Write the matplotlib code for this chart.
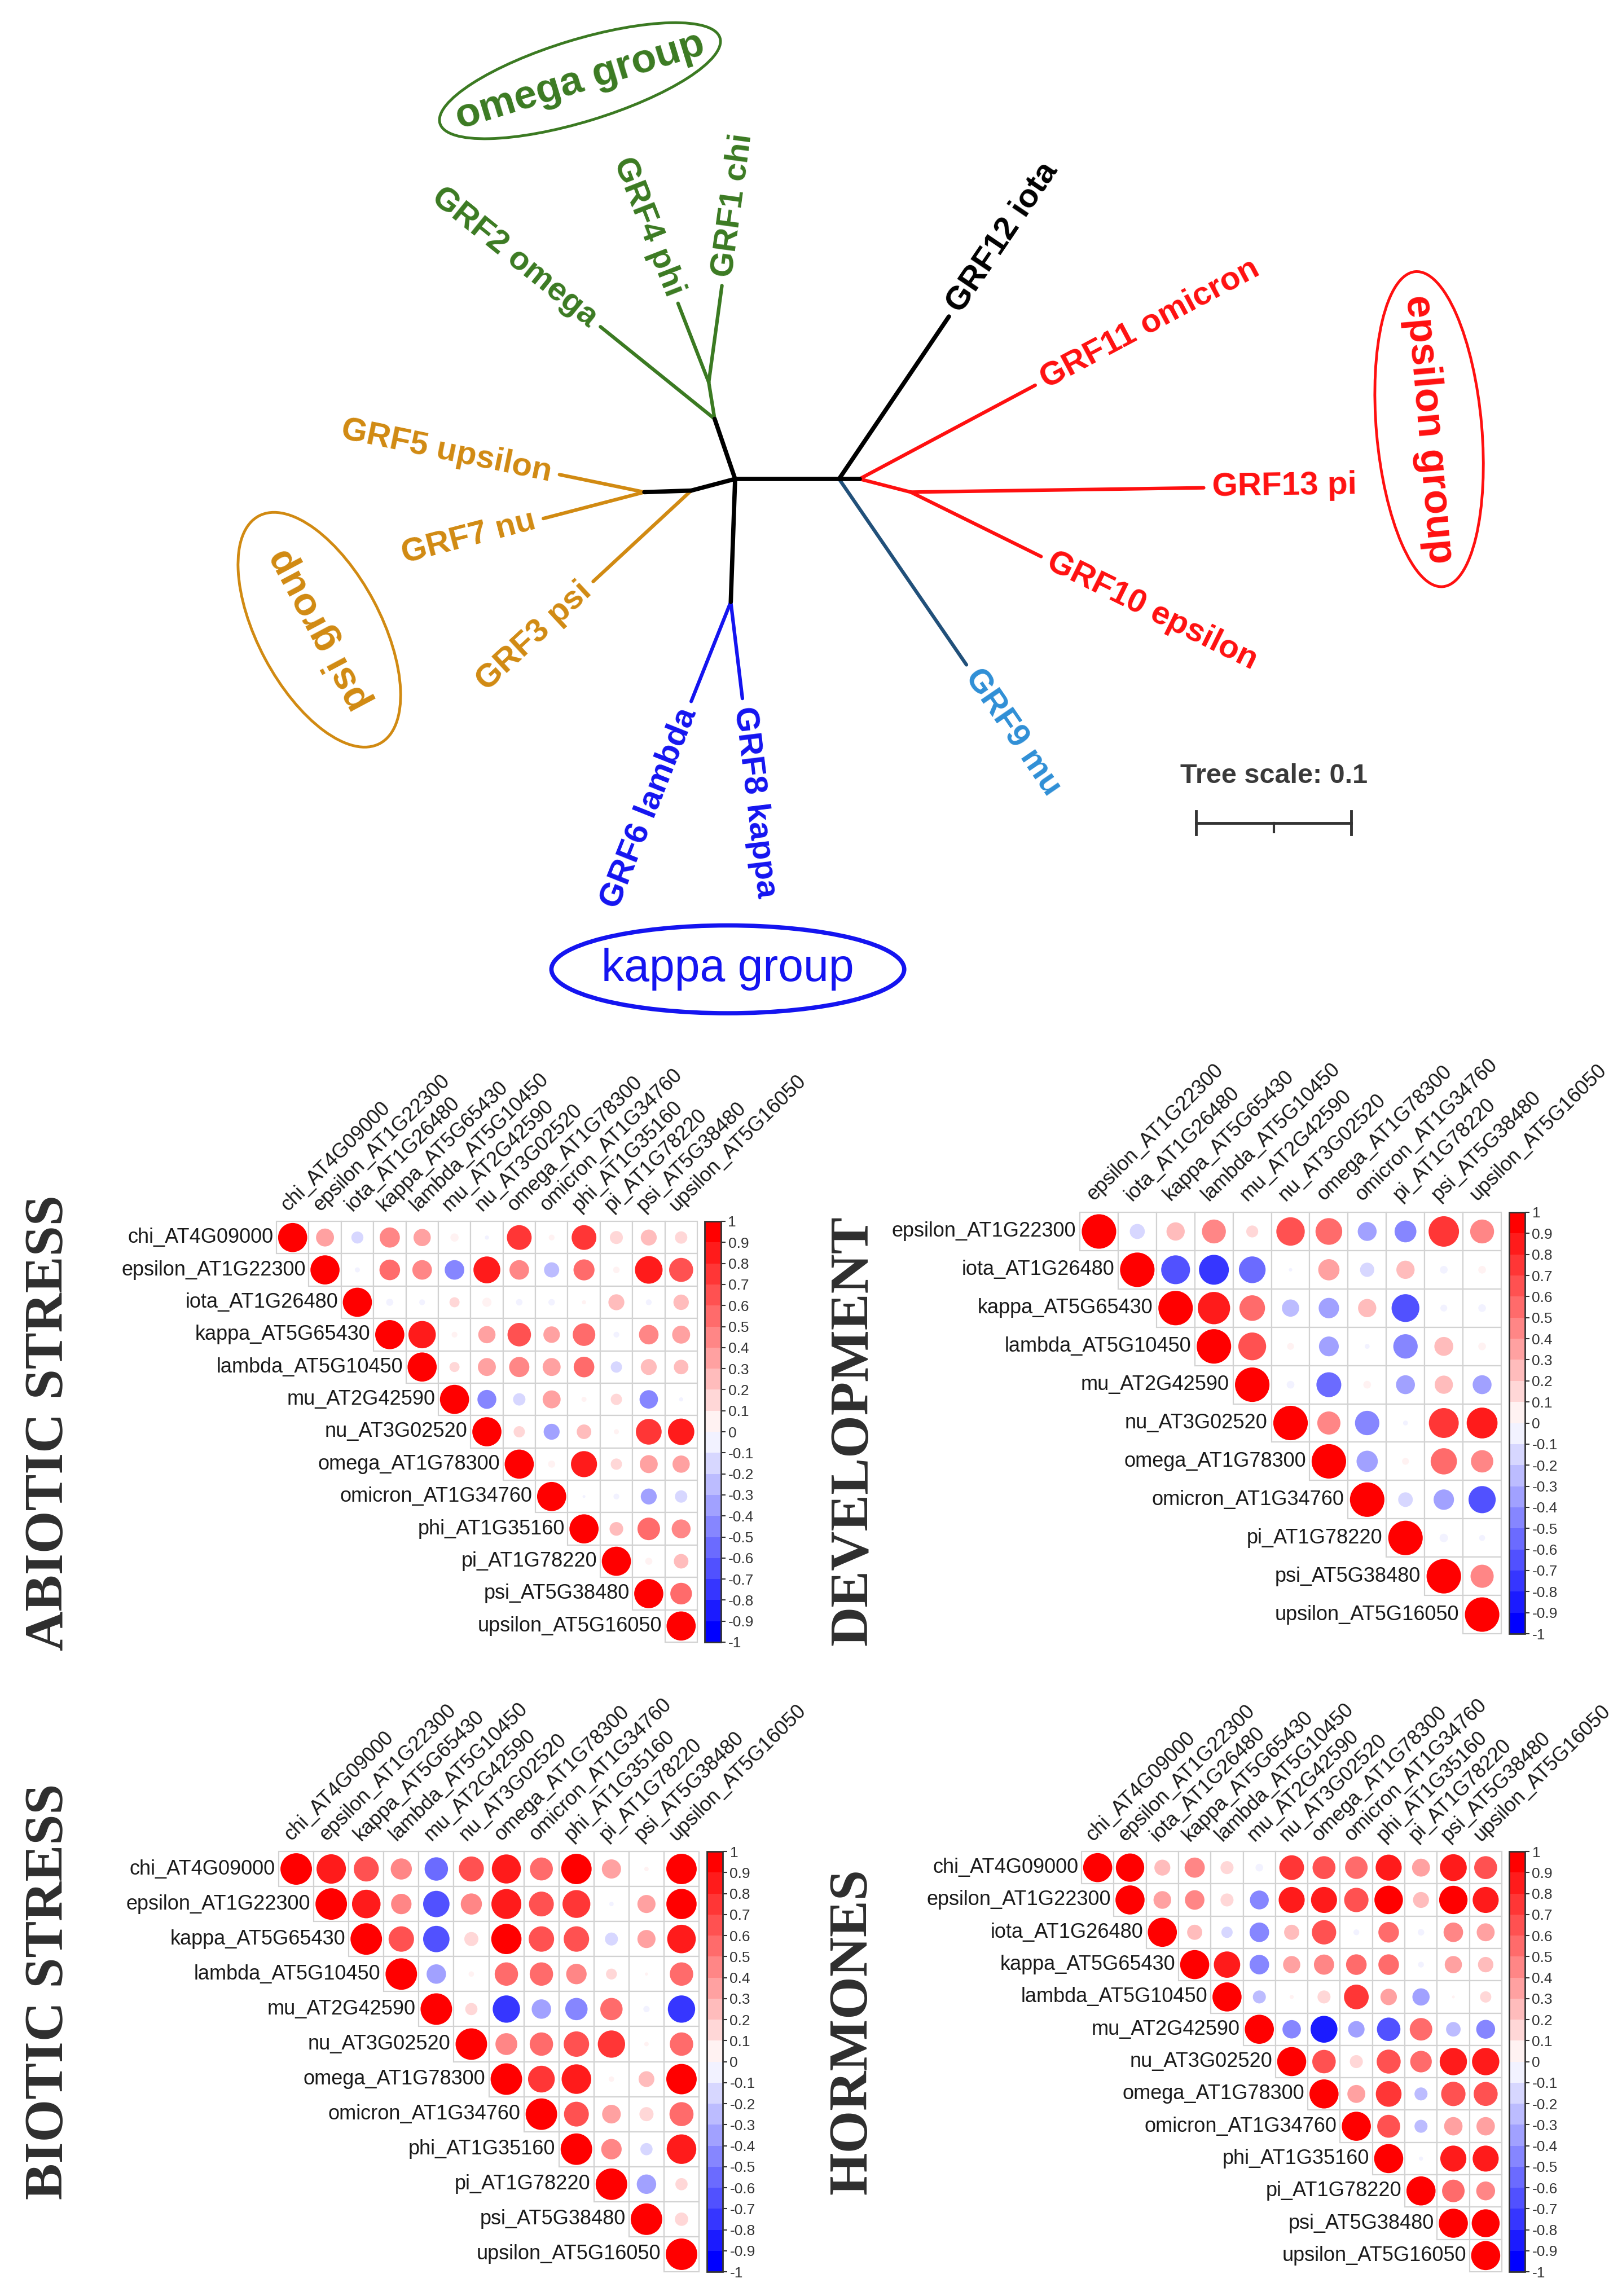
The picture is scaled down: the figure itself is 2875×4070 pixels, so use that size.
import numpy as np
import matplotlib
matplotlib.use("Agg")
import matplotlib.pyplot as plt
from matplotlib.patches import Rectangle, Circle, Ellipse
from matplotlib.colors import ListedColormap, BoundaryNorm
import matplotlib.colorbar as mcb

# ------------------------------------------------------------------ data
# unrooted GRF tree (node positions in tree-distance units)
node_names = ["A", "B", "C", "D", "E", "F", "G", "H", "I",
              "omega", "phi", "chi", "upsilon", "nu", "psi", "lambda", "kappa",
              "iota", "omicron", "pi", "epsilon", "mu"]
node_x = [0.0, 0.0670, -0.0132, -0.0170, -0.0283, -0.0585, -0.0028, 0.0802, 0.1132,
          -0.0868, -0.0368, -0.0085, -0.1132, -0.1236, -0.0915, -0.0283, 0.0047,
          0.1378, 0.1934, 0.3020, 0.1972, 0.1491]
node_y = [0.0, 0.0, 0.0387, 0.0623, -0.0075, -0.0085, -0.0793, 0.0, -0.0085,
          0.0981, 0.1132, 0.1246, 0.0028, -0.0255, -0.0661, -0.1434, -0.1415,
          0.1047, 0.0604, -0.0057, -0.0500, -0.1198]
edge_parent = ["A", "A", "C", "C", "D", "D", "A", "E", "F", "F", "E", "A", "G", "G",
               "B", "B", "H", "H", "I", "I", "B"]
edge_child = ["B", "C", "omega", "D", "phi", "chi", "E", "F", "upsilon", "nu", "psi", "G",
              "lambda", "kappa", "iota", "H", "omicron", "I", "pi", "epsilon", "mu"]
edge_group = ["core", "core", "omega", "omega", "omega", "omega", "core", "core", "psi", "psi",
              "psi", "core", "kappa", "kappa", "core", "core", "eps", "eps", "eps", "eps", "mu"]
tip_nodes = ["omega", "phi", "chi", "iota", "omicron", "pi", "epsilon", "mu",
             "kappa", "lambda", "psi", "nu", "upsilon"]
tip_labels = ["GRF2 omega", "GRF4 phi", "GRF1 chi", "GRF12 iota", "GRF11 omicron",
              "GRF13 pi", "GRF10 epsilon", "GRF9 mu", "GRF8 kappa", "GRF6 lambda",
              "GRF3 psi", "GRF7 nu", "GRF5 upsilon"]
tip_groups = ["omega", "omega", "omega", "core", "eps", "eps", "eps", "mulab",
              "kappa", "kappa", "psi", "psi", "psi"]
group_names = ["omega group", "epsilon group", "psi group", "kappa group"]
group_keys = ["omega", "eps", "psi", "kappa"]
group_cx = [-0.1000, 0.4473, -0.2680, -0.0047]
group_cy = [0.2567, 0.0321, -0.0972, -0.3161]
group_w = [0.1887, 0.2038, 0.1661, 0.2274]
group_h = [0.0528, 0.0679, 0.0793, 0.0566]
group_angle = [17, -85, 118, 0]
tree_scale = 0.1

# correlation matrices (upper triangle rows incl. diagonal)
abiotic_genes = ["chi_AT4G09000", "epsilon_AT1G22300", "iota_AT1G26480", "kappa_AT5G65430",
                 "lambda_AT5G10450", "mu_AT2G42590", "nu_AT3G02520", "omega_AT1G78300",
                 "omicron_AT1G34760", "phi_AT1G35160", "pi_AT1G78220", "psi_AT5G38480",
                 "upsilon_AT5G16050"]
abiotic_rows = [
    [1, 0.38, -0.17, 0.48, 0.35, 0.08, -0.02, 0.72, 0.04, 0.72, 0.2, 0.3, 0.18],
    [1, -0.03, 0.5, 0.45, -0.45, 0.85, 0.45, -0.27, 0.52, 0.05, 0.9, 0.68],
    [1, -0.06, -0.04, 0.12, 0.1, -0.05, -0.05, 0.02, 0.3, -0.04, 0.28],
    [1, 0.88, 0.04, 0.35, 0.65, 0.32, 0.6, -0.04, 0.45, 0.38],
    [1, 0.12, 0.38, 0.48, 0.38, 0.5, -0.15, 0.3, 0.25],
    [1, -0.42, -0.18, 0.38, 0.03, 0.15, -0.4, -0.02],
    [1, 0.15, -0.3, 0.25, 0.03, 0.78, 0.82],
    [1, 0.06, 0.8, 0.15, 0.38, 0.35],
    [1, -0.01, -0.04, -0.3, -0.18],
    [1, 0.22, 0.6, 0.42],
    [1, 0.06, 0.25],
    [1, 0.55],
    [1],
]
development_genes = ["epsilon_AT1G22300", "iota_AT1G26480", "kappa_AT5G65430", "lambda_AT5G10450",
                     "mu_AT2G42590", "nu_AT3G02520", "omega_AT1G78300", "omicron_AT1G34760",
                     "pi_AT1G78220", "psi_AT5G38480", "upsilon_AT5G16050"]
development_rows = [
    [1, -0.19, 0.28, 0.48, 0.12, 0.68, 0.6, -0.3, -0.4, 0.78, 0.48],
    [1, -0.7, -0.75, -0.6, -0.01, 0.38, -0.17, 0.28, -0.05, 0.05],
    [1, 0.88, 0.55, -0.25, -0.35, 0.28, -0.65, -0.04, -0.05],
    [1, 0.65, 0.04, -0.33, -0.02, -0.5, 0.3, 0.05],
    [1, -0.05, -0.52, 0.05, -0.3, 0.28, -0.3],
    [1, 0.45, -0.5, -0.02, 0.75, 0.8],
    [1, -0.38, 0.04, 0.58, 0.42],
    [1, -0.18, -0.35, -0.62],
    [1, -0.06, -0.03],
    [1, 0.45],
    [1],
]
biotic_genes = ["chi_AT4G09000", "epsilon_AT1G22300", "kappa_AT5G65430", "lambda_AT5G10450",
                "mu_AT2G42590", "nu_AT3G02520", "omega_AT1G78300", "omicron_AT1G34760",
                "phi_AT1G35160", "pi_AT1G78220", "psi_AT5G38480", "upsilon_AT5G16050"]
biotic_rows = [
    [1, 0.87, 0.63, 0.45, -0.55, 0.63, 0.85, 0.53, 0.93, 0.37, 0.02, 0.93],
    [1, 0.82, 0.42, -0.7, 0.45, 0.9, 0.62, 0.78, -0.02, 0.33, 0.92],
    [1, 0.65, -0.7, 0.2, 0.92, 0.65, 0.65, -0.17, 0.33, 0.82],
    [1, -0.38, 0.03, 0.55, 0.55, 0.42, 0.12, 0.01, 0.55],
    [1, 0.15, -0.75, -0.38, -0.5, 0.5, -0.04, -0.75],
    [1, 0.48, 0.55, 0.65, 0.75, 0.02, 0.55],
    [1, 0.72, 0.88, 0.03, 0.25, 0.93],
    [1, 0.62, 0.35, 0.2, 0.58],
    [1, 0.42, -0.15, 0.88],
    [1, -0.38, 0.15],
    [1, 0.18],
    [1],
]
hormones_genes = abiotic_genes
hormones_rows = [
    [1, 0.95, 0.3, 0.48, 0.2, -0.07, 0.72, 0.62, 0.6, 0.8, 0.38, 0.85, 0.62],
    [1, 0.37, 0.45, 0.2, -0.42, 0.8, 0.8, 0.7, 0.96, 0.3, 0.95, 0.8],
    [1, 0.27, -0.15, -0.45, 0.27, 0.7, -0.04, 0.5, -0.05, 0.45, 0.38],
    [1, 0.82, -0.45, 0.35, 0.48, 0.5, 0.5, -0.04, 0.35, 0.28],
    [1, -0.2, 0.02, 0.2, 0.72, 0.32, -0.35, 0.01, 0.15],
    [1, -0.4, -0.85, -0.32, -0.65, 0.6, -0.25, -0.42],
    [1, 0.65, 0.2, 0.68, 0.55, 0.88, 0.88],
    [1, 0.38, 0.78, -0.2, 0.7, 0.68],
    [1, 0.62, -0.2, 0.4, 0.4],
    [1, -0.02, 0.8, 0.8],
    [1, 0.6, 0.42],
    [1, 0.92],
    [1],
]
panel_titles = ["ABIOTIC STRESS", "DEVELOPMENT", "BIOTIC STRESS", "HORMONES"]

# ------------------------------------------------------------------ styling
W, H = 2875, 4070
fig = plt.figure(figsize=(W / 100, H / 100), dpi=100)
fig.patch.set_facecolor("white")
SANS = ["Liberation Sans", "DejaVu Sans"]
SERIF = ["Liberation Serif", "DejaVu Serif"]

group_colors = {"core": "#000000", "omega": "#3b7a22", "psi": "#d18a12",
                "kappa": "#1414f0", "eps": "#ff1010", "mu": "#21507a", "mulab": "#2f8fd6"}


def px_axes(x0, y0, w, h):
    return fig.add_axes([x0 / W, 1 - (y0 + h) / H, w / W, h / H])


# ------------------------------------------------------------------ tree
tx0, ty0, ppu = 1303.0, 849.0, 2750.0  # pixel origin & pixels per tree unit
tax = px_axes(0, 0, W, 1850)
tax.set_xlim(-tx0 / ppu, (W - tx0) / ppu)
tax.set_ylim(-(1850 - ty0) / ppu, ty0 / ppu)
tax.axis("off")
pos = {n: (x, y) for n, x, y in zip(node_names, node_x, node_y)}

for p, c, g in zip(edge_parent, edge_child, edge_group):
    (x1, y1), (x2, y2) = pos[p], pos[c]
    lw = 5.5 if g == "core" else 4.5
    tax.plot([x1, x2], [y1, y2], color=group_colors[g], lw=lw,
             solid_capstyle="round", zorder=3 if g != "core" else 4)

parent_of = dict(zip(edge_child, edge_parent))
gap = 0.0055
for tip, lab, g in zip(tip_nodes, tip_labels, tip_groups):
    x2, y2 = pos[tip]
    x1, y1 = pos[parent_of[tip]]
    ang = np.degrees(np.arctan2(y2 - y1, x2 - x1))
    ux, uy = np.cos(np.radians(ang)), np.sin(np.radians(ang))
    tx, ty = x2 + gap * ux, y2 + gap * uy
    if -90 <= ang <= 90:
        rot, ha = ang, "left"
    else:
        rot, ha = ang - 180 if ang > 0 else ang + 180, "right"
    tax.text(tx, ty, lab, rotation=rot, rotation_mode="anchor", ha=ha, va="center",
             fontsize=42, fontweight="bold", color=group_colors[g], family=SANS)

for name, key, cx, cy, w, h, a in zip(group_names, group_keys, group_cx, group_cy,
                                      group_w, group_h, group_angle):
    col = group_colors[key]
    elw = 5.5 if key == "kappa" else 3.5
    tax.add_patch(Ellipse((cx, cy), w, h, angle=a, fill=False, ec=col, lw=elw))
    tax.text(cx, cy, name, rotation=a, rotation_mode="anchor",
             ha="center", va="center", color=col, family=SANS,
             fontsize=58 if key == "kappa" else (50 if key == "psi" else 52),
             fontweight="normal" if key == "kappa" else "bold")

# scale bar
sb_x0, sb_y = 0.2972, -0.2217
tax.plot([sb_x0, sb_x0 + tree_scale], [sb_y, sb_y], color="#333333", lw=3.5)
for xx in (sb_x0, sb_x0 + tree_scale):
    tax.plot([xx, xx], [sb_y - 0.0075, sb_y + 0.0075], color="#333333", lw=3.5)
tax.plot([sb_x0 + tree_scale / 2] * 2, [sb_y, sb_y - 0.006], color="#333333", lw=3)
tax.text(sb_x0 + tree_scale / 2, -0.1915, "Tree scale: %g" % tree_scale, ha="center",
         va="center", fontsize=35, fontweight="bold", color="#3a3a3a", family=SANS)

# ------------------------------------------------------------------ correlation plots
ramp = []
for t in np.linspace(0, 1, 20):
    if t <= 0.5:
        ramp.append((2 * t, 2 * t, 1.0))
    else:
        ramp.append((1.0, 2 - 2 * t, 2 - 2 * t))
cmap = ListedColormap(ramp)
bounds = np.linspace(-1, 1, 21)
norm = BoundaryNorm(bounds, cmap.N)


def tick_text(t):
    t = round(t, 1)
    if abs(t) < 1e-9:
        return "0"
    return ("%g" % t)


def draw_corr(x0, y0, size, genes, rows, cbx, cbw, lab_fs=26):
    n = len(genes)
    ax = px_axes(x0, y0, size, size)
    ax.set_xlim(0, n)
    ax.set_ylim(n, 0)
    ax.axis("off")
    for i, row in enumerate(rows):
        for k, v in enumerate(row):
            j = i + k
            ax.add_patch(Rectangle((j, i), 1, 1, fc="white", ec="#d2d2d2", lw=1.6,
                                   clip_on=False, zorder=1))
            ax.add_patch(Circle((j + 0.5, i + 0.5), 0.45 * np.sqrt(abs(v)),
                                fc=cmap(norm(v)), ec="none", clip_on=False, zorder=2))
        ax.text(i - 0.1, i + 0.5, genes[i], ha="right", va="center", fontsize=lab_fs,
                color="#1a1a1a", family=SANS)
    for j in range(n):
        ax.text(j + 0.45, -0.2, genes[j], rotation=45, rotation_mode="anchor",
                ha="left", va="bottom", fontsize=lab_fs, color="#1a1a1a", family=SANS)
    cax = px_axes(cbx, y0, cbw, size)
    cb = mcb.ColorbarBase(cax, cmap=cmap, norm=norm, boundaries=bounds,
                          ticks=bounds, orientation="vertical")
    cb.set_ticklabels([tick_text(t) for t in bounds])
    cb.outline.set_linewidth(2.0)
    cb.outline.set_edgecolor("#333333")
    cax.tick_params(length=6, width=1.5, labelsize=19, colors="#333333", pad=3)
    for tl in cax.get_yticklabels():
        tl.set_family(SANS)
    return ax


draw_corr(490, 2165, 746, abiotic_genes, abiotic_rows, 1249, 29)
draw_corr(1914, 2149, 747, development_genes, development_rows, 2675, 28)
draw_corr(494, 3282, 745, biotic_genes, biotic_rows, 1253, 28)
draw_corr(1917, 3282, 745, hormones_genes, hormones_rows, 2675, 28)

title_pos = [(88, 2522), (1514, 2536), (88, 3530), (1512, 3601)]
for t, (x, y) in zip(panel_titles, title_pos):
    fig.text(x / W, 1 - y / H, t, rotation=90, ha="center", va="center", fontsize=70,
             fontweight="bold", family=SERIF, color="#2e2e2e")

fig.savefig("out.png", dpi=100, facecolor="white")
